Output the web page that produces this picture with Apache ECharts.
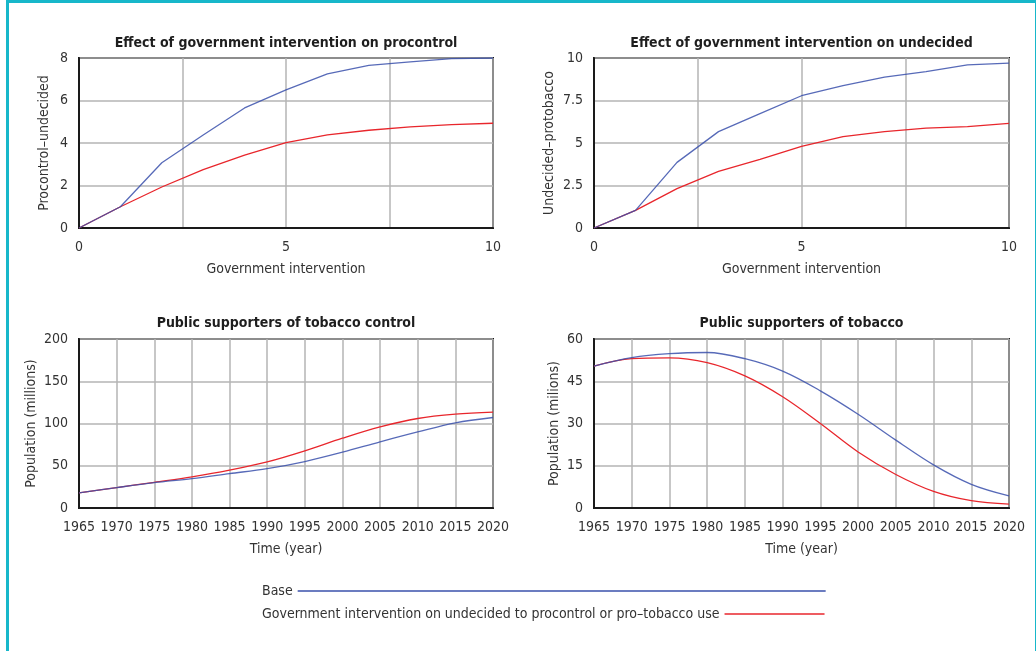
<!DOCTYPE html>
<html>
<head>
<meta charset="utf-8">
<script src="https://cdn.jsdelivr.net/npm/echarts@6/dist/echarts.min.js"></script>
<style>
html,body{margin:0;padding:0;background:#fff;}
#frame{position:absolute;left:6px;top:0;width:1026px;height:660px;border-left:3px solid #17b7ca;border-top:3px solid #17b7ca;border-right:1px solid #17b7ca;}
#chart{position:absolute;left:0;top:0;width:1036px;height:651px;}
</style>
</head>
<body>
<div id="frame"></div>
<div id="chart"></div>
<script>
// ---- data ----
const intervention = [0,1,2,3,4,5,6,7,8,9,10];
const procontrolBase = [0,1.0,3.07,4.38,5.65,6.5,7.25,7.65,7.82,7.97,8.0];
const procontrolGov  = [0,1.0,1.93,2.75,3.43,4.02,4.38,4.6,4.76,4.86,4.93];
const undecidedBase  = [0,1.04,3.86,5.67,6.73,7.78,8.37,8.88,9.2,9.59,9.7];
const undecidedGov   = [0,1.04,2.32,3.33,4.04,4.8,5.37,5.67,5.87,5.96,6.16];

const years = [1965,1970,1975,1980,1985,1990,1995,2000,2005,2010,2015,2020];
const controlBase = [17.8,24.1,30.0,34.8,40.7,46.6,55.0,66.0,78.3,90.0,100.8,107.1];
const controlGov  = [17.8,24.1,30.4,36.8,44.7,54.5,67.6,82.6,96.0,105.9,111.0,113.4];
const tobaccoBase = [50.4,53.4,54.8,55.2,53.0,48.6,41.6,33.3,24.1,15.3,8.4,4.3];
const tobaccoGov  = [50.4,53.0,53.3,51.6,46.9,39.5,30.0,19.9,11.9,5.9,2.6,1.4];

const titles = [
  'Effect of government intervention on procontrol',
  'Effect of government intervention on undecided',
  'Public supporters of tobacco control',
  'Public supporters of tobacco'
];
const yNames = ['Procontrol\u2013undecided','Undecided\u2013protobacco','Population (millions)','Population (milions)'];
const xNames = ['Government intervention','Government intervention','Time (year)','Time (year)'];
const baseName = 'Base';
const govName = 'Government intervention on undecided to procontrol or pro\u2013tobacco use';

// ---- chart ----
const FONT = "'Liberation Sans Narrow','DejaVu Sans Condensed',sans-serif";
const FS = 14;
const BLUE = '#3a50ab';
const RED = '#e8262c';
const GRIDC = '#b4b4b4';
const TXT = '#333';

const grids = [
  {left:79, top:58, width:414, height:170},
  {left:594, top:58, width:415, height:170},
  {left:79, top:339, width:414, height:169},
  {left:594, top:339, width:415, height:169}
];
const yCfg = [
  {min:0,max:8,interval:2,gap:28},
  {min:0,max:10,interval:2.5,gap:38},
  {min:0,max:200,interval:50,gap:41},
  {min:0,max:60,interval:15,gap:33}
];
const xCfg = [
  {min:0,max:10,interval:2.5,fmt:v=> (v%5===0? String(v):'')},
  {min:0,max:10,interval:2.5,fmt:v=> (v%5===0? String(v):'')},
  {min:1965,max:2020,interval:5,fmt:v=>String(v)},
  {min:1965,max:2020,interval:5,fmt:v=>String(v)}
];

function pairs(xs, ys){ return xs.map((x,i)=>[x, ys[i]]); }

const seriesData = [
  [procontrolBase, procontrolGov, intervention, false],
  [undecidedBase, undecidedGov, intervention, false],
  [controlBase, controlGov, years, 0.35],
  [tobaccoBase, tobaccoGov, years, 0.35]
];

const series = [];
seriesData.forEach((d,i)=>{
  series.push({name:govName,type:'line',xAxisIndex:i,yAxisIndex:i,data:pairs(d[2],d[1]),
    smooth:d[3],symbol:'none',lineStyle:{color:RED,width:1.3},itemStyle:{color:RED},z:2});
  series.push({name:baseName,type:'line',xAxisIndex:i,yAxisIndex:i,data:pairs(d[2],d[0]),
    smooth:d[3],symbol:'none',lineStyle:{color:BLUE,width:1.3,opacity:0.85},itemStyle:{color:BLUE},z:3});
});

const option = {
  animation:false,
  textStyle:{fontFamily:FONT},
  title: grids.map((g,i)=>({
    text:titles[i], left:g.left + g.width/2, textAlign:'center', top: i<2 ? 36 : 316, padding:0,
    textStyle:{fontFamily:FONT,fontSize:FS,fontWeight:'bold',color:'#1e1e1e'}
  })),
  grid: grids.map(g=>Object.assign({show:true,borderColor:'#1a1a1a',borderWidth:2,backgroundColor:'transparent'},g)),
  xAxis: grids.map((g,i)=>({
    type:'value', gridIndex:i, min:xCfg[i].min, max:xCfg[i].max, interval:xCfg[i].interval,
    name:xNames[i], nameLocation:'middle', nameGap:34,
    nameTextStyle:{fontFamily:FONT,fontSize:FS,color:TXT},
    axisLine:{show:true,lineStyle:{color:'#1a1a1a',width:2}},
    axisTick:{show:false},
    axisLabel:{formatter:xCfg[i].fmt,fontFamily:FONT,fontSize:FS,color:TXT,margin:12},
    splitLine:{show:true,lineStyle:{color:GRIDC,width:1.5}}
  })),
  yAxis: grids.map((g,i)=>({
    type:'value', gridIndex:i, min:yCfg[i].min, max:yCfg[i].max, interval:yCfg[i].interval,
    name:yNames[i], nameLocation:'middle', nameGap:yCfg[i].gap,
    nameTextStyle:{fontFamily:FONT,fontSize:FS,color:TXT},
    axisLine:{show:true,lineStyle:{color:'#1a1a1a',width:2}},
    axisTick:{show:false},
    axisLabel:{fontFamily:FONT,fontSize:FS,color:TXT,margin:11},
    splitLine:{show:true,lineStyle:{color:GRIDC,width:1.5}}
  })),
  legend:[
    {data:[baseName], left:262, top:584, padding:0, align:'right', icon:'rect', itemWidth:528, itemHeight:1.3,
     textStyle:{fontFamily:FONT,fontSize:FS,color:TXT}, selectedMode:false},
    {data:[govName], left:262, top:607, padding:0, align:'right', icon:'rect', itemWidth:100, itemHeight:1.3,
     textStyle:{fontFamily:FONT,fontSize:FS,color:TXT}, selectedMode:false}
  ],
  series: series
};

const chart = echarts.init(document.getElementById('chart'), null, {renderer:'canvas'});
chart.setOption(option);
</script>
</body>
</html>
